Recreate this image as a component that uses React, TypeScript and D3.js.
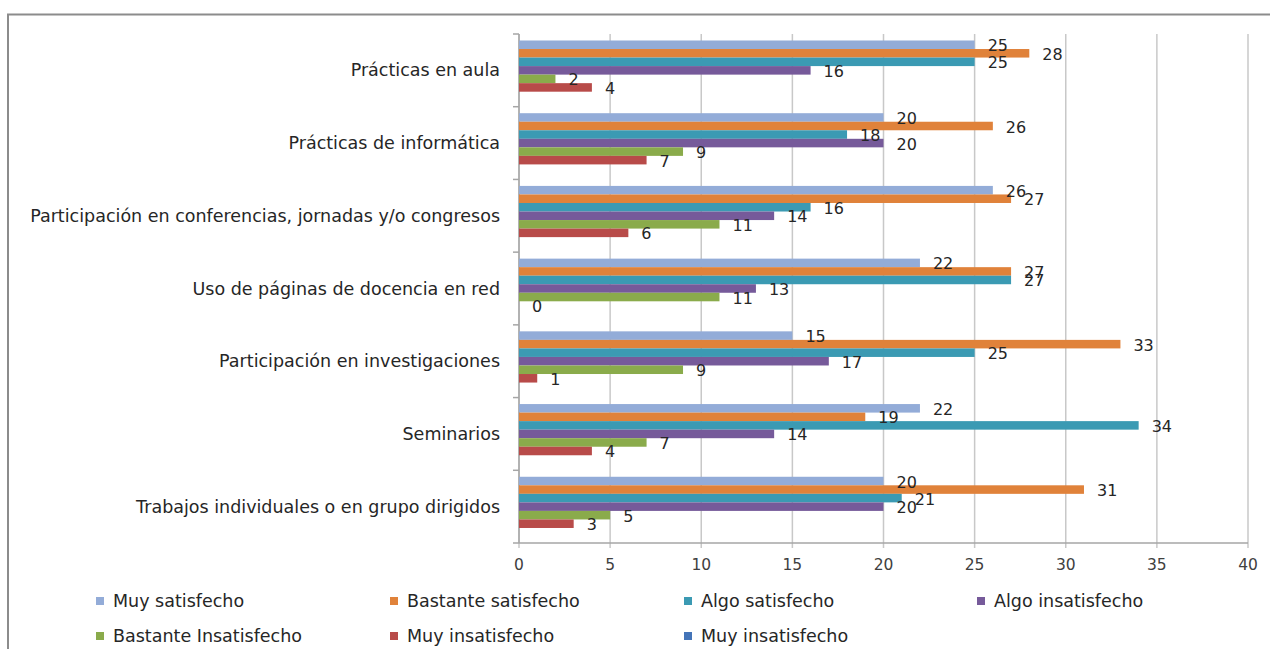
import React from "react";
import * as d3 from "d3";

const categories = [
  "Prácticas en aula",
  "Prácticas de informática",
  "Participación en conferencias, jornadas y/o congresos",
  "Uso de páginas de docencia en red",
  "Participación en investigaciones",
  "Seminarios",
  "Trabajos individuales o en grupo dirigidos",
];

const seriesNames = [
  "Muy satisfecho",
  "Bastante satisfecho",
  "Algo satisfecho",
  "Algo insatisfecho",
  "Bastante Insatisfecho",
  "Muy insatisfecho",
  "Muy insatisfecho",
];

const muySatisfecho = [25, 20, 26, 22, 15, 22, 20];
const bastanteSatisfecho = [28, 26, 27, 27, 33, 19, 31];
const algoSatisfecho = [25, 18, 16, 27, 25, 34, 21];
const algoInsatisfecho = [16, 20, 14, 13, 17, 14, 20];
const bastanteInsatisfecho = [2, 9, 11, 11, 9, 7, 5];
const muyInsatisfecho = [4, 7, 6, 0, 1, 4, 3];
const muyInsatisfecho2: (number | null)[] = [null, null, null, null, null, null, null];

const xTicks = [0, 5, 10, 15, 20, 25, 30, 35, 40];

const colors = ["#93ACD8", "#E0823A", "#3B9AB3", "#765A9A", "#8AAB4B", "#B84B49", "#4474B8"];

const seriesValues: (number | null)[][] = [
  muySatisfecho,
  bastanteSatisfecho,
  algoSatisfecho,
  algoInsatisfecho,
  bastanteInsatisfecho,
  muyInsatisfecho,
  muyInsatisfecho2,
];

export default function App() {
  const W = 1270;
  const H = 649;
  const left = 519;
  const right = 1248;
  const top = 34;
  const bottom = 543;

  const x = d3.scaleLinear().domain([0, 40]).range([left, right]);
  const y0 = d3.scaleBand<string>().domain(categories).range([top, bottom]).paddingInner(0).paddingOuter(0);
  const bw = y0.bandwidth();
  const y1 = d3
    .scaleBand<string>()
    .domain(d3.range(seriesNames.length).map(String))
    .range([0, bw])
    .paddingOuter(0.76)
    .paddingInner(0);

  const labelFont = "DejaVu Sans, sans-serif";

  return (
    <svg width={W} height={H} style={{ position: "absolute", left: 0, top: 0, background: "#fff" }}>
      <rect x={8} y={14.5} width={1400} height={800} fill="#fff" stroke="#8c8c8c" strokeWidth={2} />
      {/* gridlines */}
      {xTicks.map((t) => (
        <line key={"g" + t} x1={x(t)} x2={x(t)} y1={top} y2={bottom + 5} stroke="#c8c8c8" strokeWidth={1.5} />
      ))}
      {/* axes */}
      <line x1={left} x2={left} y1={top} y2={bottom} stroke="#a6a6a6" strokeWidth={1.5} />
      <line x1={left - 6} x2={right} y1={bottom} y2={bottom} stroke="#a6a6a6" strokeWidth={1.5} />
      {categories.map((c, i) => (
        <line key={"ct" + i} x1={left - 6} x2={left} y1={y0(c)!} y2={y0(c)!} stroke="#a6a6a6" strokeWidth={1.5} />
      ))}
      {/* bars */}
      {categories.map((c, ci) =>
        seriesValues.map((vals, si) => {
          const v = vals[ci];
          if (v === null || v === undefined) return null;
          const yy = y0(c)! + y1(String(si))!;
          return (
            <rect
              key={"b" + ci + "-" + si}
              x={x(0)}
              y={yy}
              width={x(v) - x(0)}
              height={y1.bandwidth()}
              fill={colors[si]}
            />
          );
        })
      )}
      {/* value labels */}
      {categories.map((c, ci) =>
        seriesValues.map((vals, si) => {
          const v = vals[ci];
          if (v === null || v === undefined) return null;
          const yy = y0(c)! + y1(String(si))! + y1.bandwidth() / 2 + 1;
          return (
            <text
              key={"l" + ci + "-" + si}
              x={x(v) + 13}
              y={yy}
              dominantBaseline="central"
              fontFamily={labelFont}
              fontSize={16}
              fill="#262626"
            >
              {v}
            </text>
          );
        })
      )}
      {/* category labels */}
      {categories.map((c) => (
        <text
          key={"cl" + c}
          x={500}
          y={y0(c)! + bw / 2}
          textAnchor="end"
          dominantBaseline="central"
          fontFamily={labelFont}
          fontSize={17.5}
          fill="#262626"
        >
          {c}
        </text>
      ))}
      {/* x tick labels */}
      {xTicks.map((t) => (
        <text
          key={"xt" + t}
          x={x(t)}
          y={565}
          textAnchor="middle"
          dominantBaseline="central"
          fontFamily={labelFont}
          fontSize={15.5}
          fill="#404040"
        >
          {t}
        </text>
      ))}
      {/* legend */}
      {seriesNames.map((n, i) => {
        const col = i % 4;
        const row = Math.floor(i / 4);
        const lx = [96, 390, 684, 977][col];
        const ly = [601, 636][row];
        return (
          <g key={"lg" + i}>
            <rect x={lx} y={ly - 4} width={8} height={8} fill={colors[i]} />
            <text x={lx + 17} y={ly} dominantBaseline="central" fontFamily={labelFont} fontSize={17.5} fill="#262626">
              {n}
            </text>
          </g>
        );
      })}
    </svg>
  );
}
